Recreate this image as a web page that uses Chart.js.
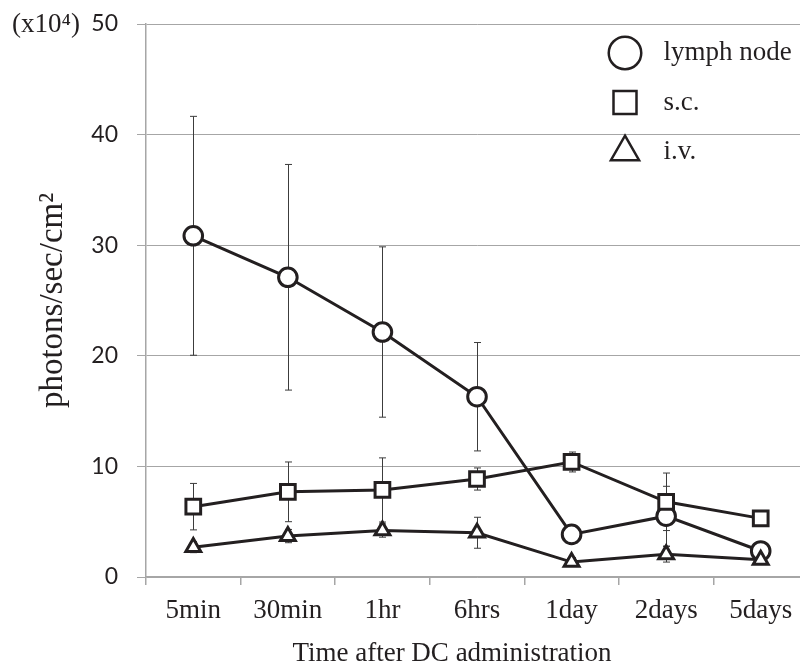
<!DOCTYPE html>
<html>
<head>
<meta charset="utf-8">
<script src="https://cdn.jsdelivr.net/npm/chart.js@4/dist/chart.umd.min.js"></script>
<style>
  html, body { margin: 0; padding: 0; background: #ffffff; overflow: hidden; }
  #wrap { width: 808px; height: 668px; }
</style>
</head>
<body>
<div id="wrap"><canvas id="c" width="808" height="668"></canvas></div>
<script>
const categories = ['5min', '30min', '1hr', '6hrs', '1day', '2days', '5days'];
const seriesNames = ['lymph node', 's.c.', 'i.v.'];
const lymphNode = [30.85, 27.1, 22.15, 16.3, 3.85, 5.5, 2.35];
const lymphNodeErr = [10.8, 10.2, 7.7, 4.9, 0.5, 2.7, 0.5];
const sc = [6.36, 7.7, 7.87, 8.86, 10.4, 6.8, 5.3];
const scErr = [2.1, 2.7, 2.9, 1.0, 0.9, 2.6, 0.4];
const iv = [2.7, 3.7, 4.2, 4.0, 1.35, 2.05, 1.55];
const ivErr = [0.5, 0.6, 0.6, 1.4, 0.4, 0.7, 0.4];
const yTicks = [0, 10, 20, 30, 40, 50];
const xTitle = 'Time after DC administration';
const yTitle = 'photons/sec/cm\u00b2';
const unitLabel = '(x10\u2074)';

const ink = '#231f20';
const axisGray = '#a6a6a6';

const errorBars = {
  id: 'errorBars',
  beforeDatasetsDraw(chart) {
    const errs = [lymphNodeErr, scErr, ivErr];
    const xs = chart.scales.x, ys = chart.scales.y;
    const ctx = chart.ctx;
    ctx.save();
    ctx.strokeStyle = '#3c3c3c';
    ctx.lineWidth = 1;
    chart.data.datasets.forEach((ds, di) => {
      ds.data.forEach((v, i) => {
        const e = errs[di][i];
        const x = Math.round(xs.getPixelForValue(i)) + 0.5;
        const yt = ys.getPixelForValue(v + e);
        const yb = ys.getPixelForValue(v - e);
        ctx.beginPath();
        ctx.moveTo(x, yt); ctx.lineTo(x, yb);
        ctx.moveTo(x - 3.5, yt); ctx.lineTo(x + 3.5, yt);
        ctx.moveTo(x - 3.5, yb); ctx.lineTo(x + 3.5, yb);
        ctx.stroke();
      });
    });
    ctx.restore();
  }
};

const extras = {
  id: 'extras',
  afterLayout(chart) {
    if (chart.legend) {
      chart.legend.left = 591;
      chart.legend.top = 17;
    }
  },
  afterDraw(chart) {
    const ctx = chart.ctx;
    ctx.save();
    ctx.fillStyle = ink;
    ctx.textBaseline = 'middle';
    ctx.font = '27px "Liberation Serif"';
    ctx.textAlign = 'left';
    ctx.fillText(unitLabel, 12, 25);
    ctx.textAlign = 'center';
    ctx.fillText(xTitle, 452, 654);
    ctx.restore();
  }
};

function ds(label, data, style, radius, order) {
  return {
    label: label,
    data: data,
    borderColor: ink,
    borderWidth: 3,
    backgroundColor: '#ffffff',
    pointStyle: style,
    pointRadius: radius,
    pointHoverRadius: radius,
    pointBorderWidth: 3,
    pointBackgroundColor: '#ffffff',
    pointBorderColor: ink,
    tension: 0,
    fill: false,
    order: order
  };
}

new Chart(document.getElementById('c'), {
  type: 'line',
  data: {
    labels: categories,
    datasets: [
      ds(seriesNames[0], lymphNode, 'circle', 9.3, 3),
      ds(seriesNames[1], sc, 'rect', 10.4, 2),
      ds(seriesNames[2], iv, 'triangle', 8.6, 1)
    ]
  },
  options: {
    responsive: false,
    animation: false,
    layout: { autoPadding: false, padding: { top: 24, right: 0, bottom: 0, left: 0 } },
    plugins: {
      tooltip: { enabled: false },
      legend: {
        position: 'chartArea',
        align: 'start',
        labels: {
          usePointStyle: true,
          boxWidth: 23,
          boxHeight: 23,
          padding: 22.5,
          color: ink,
          font: { family: 'Liberation Serif', size: 27 },
          generateLabels(chart) {
            const items = Chart.defaults.plugins.legend.labels.generateLabels(chart);
            items.sort((a, b) => a.datasetIndex - b.datasetIndex);
            items.forEach(it => { it.text = '  ' + it.text; it.lineWidth = 2.5; });
            return items;
          }
        }
      }
    },
    scales: {
      x: {
        offset: true,
        grid: { offset: true, drawOnChartArea: false, drawTicks: true, tickLength: 8, color: axisGray, tickColor: axisGray, lineWidth: 1.5 },
        border: { color: axisGray, width: 1.5 },
        ticks: { color: ink, padding: 12, font: { family: 'Liberation Serif', size: 27, lineHeight: 1 }, maxRotation: 0, autoSkip: false },
        afterFit(scale) {
          scale.height = 91;
          scale.paddingLeft = 0; scale.paddingRight = 0;
          scale.paddingTop = 0; scale.paddingBottom = 0;
        }
      },
      y: {
        min: 0,
        max: 50,
        afterBuildTicks(scale) { scale.ticks = yTicks.map(v => ({ value: v })); },
        grid: { color: axisGray, lineWidth: 1, borderDash: [4, 3], tickBorderDash: [], tickColor: axisGray, tickLength: 9, drawTicks: true },
        border: { color: axisGray, width: 1.5 },
        ticks: { color: ink, padding: 19, font: { family: 'Lato', size: 23 } },
        title: { display: true, text: yTitle, color: ink, font: { family: 'Liberation Serif', size: 33, lineHeight: 1 }, padding: { top: 37, bottom: 0 } },
        afterFit(scale) {
          scale.width = 146;
          scale.paddingTop = 0; scale.paddingBottom = 0;
          scale.paddingLeft = 0; scale.paddingRight = 0;
        }
      }
    }
  },
  plugins: [errorBars, extras]
});
</script>
</body>
</html>
